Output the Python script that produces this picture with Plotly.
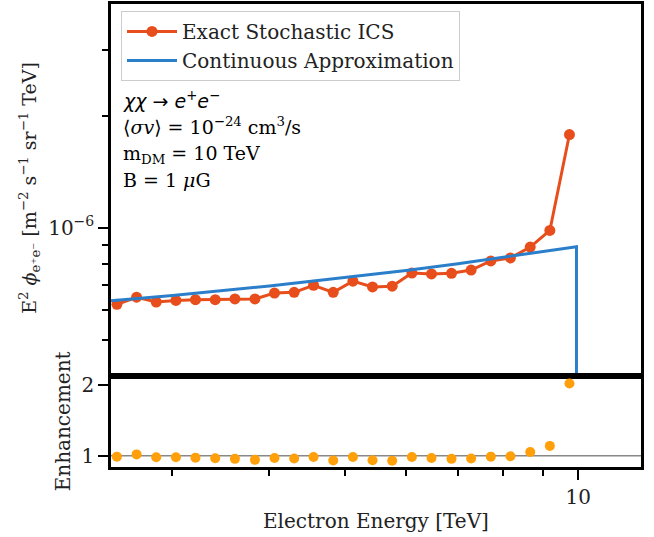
import plotly.graph_objects as go
from plotly.subplots import make_subplots

# ---- data ----
energy = [2.544, 2.697, 2.859, 3.031, 3.212, 3.406, 3.611, 3.832, 4.061, 4.305,
          4.560, 4.834, 5.125, 5.432, 5.759, 6.105, 6.471, 6.867, 7.279, 7.717,
          8.180, 8.674, 9.194, 9.745]
exact_flux = [6.22e-7, 6.50e-7, 6.31e-7, 6.37e-7, 6.40e-7, 6.40e-7, 6.43e-7, 6.43e-7,
              6.67e-7, 6.70e-7, 7.00e-7, 6.70e-7, 7.18e-7, 6.93e-7, 6.96e-7, 7.55e-7,
              7.51e-7, 7.54e-7, 7.69e-7, 8.14e-7, 8.29e-7, 8.87e-7, 9.83e-7, 1.781e-6]
enhancement = [0.986, 1.018, 0.977, 0.977, 0.972, 0.963, 0.955, 0.941, 0.968, 0.959,
               0.982, 0.931, 0.982, 0.935, 0.927, 0.982, 0.968, 0.955, 0.959, 0.986,
               0.991, 1.051, 1.138, 2.018]
cont_energy = [2.5, 3.0, 4.0, 5.0, 6.0, 7.0, 8.0, 9.0, 9.95, 9.95]
cont_flux = [6.36e-7, 6.57e-7, 6.97e-7, 7.33e-7, 7.67e-7, 8.00e-7, 8.32e-7, 8.61e-7,
             8.89e-7, 1e-10]

x_major = [10]
x_major_text = ["10"]
x_minor = [3, 4, 5, 6, 7, 8, 9]
y_major = [1e-6]
y_major_text = ["10<sup>−6</sup>"]
y_minor = [5e-7, 6e-7, 7e-7, 8e-7, 9e-7, 2e-6, 3e-6]
enh_ticks = [1, 2]

RED = "#e84e1b"
BLUE = "#2b7fca"
ORANGE = "#ffa00a"
FONT = "DejaVu Serif"
TXT = "#222222"

W, H = 654, 537
L, R, T, B = 111, 13, 1, 70
pw, ph = W - L - R, H - T - B

def px(xp):
    return (xp - L) / pw

def py(yp):
    return (H - B - yp) / ph

split = (H - B - 375) / ph

fig = make_subplots(rows=2, cols=1, shared_xaxes=True, vertical_spacing=0,
                    row_heights=[1 - split, split])

fig.add_trace(go.Scatter(x=energy, y=exact_flux, mode="lines+markers",
                         name="Exact Stochastic ICS",
                         line=dict(color=RED, width=3),
                         marker=dict(color=RED, size=11)), row=1, col=1)
fig.add_trace(go.Scatter(x=cont_energy, y=cont_flux, mode="lines",
                         name="Continuous Approximation",
                         line=dict(color=BLUE, width=3)), row=1, col=1)
fig.add_trace(go.Scatter(x=energy, y=enhancement, mode="markers",
                         showlegend=False,
                         marker=dict(color=ORANGE, size=10)), row=2, col=1)
fig.add_hline(y=1, line=dict(color="#888888", width=1.5), layer="below", row=2, col=1)

axis_common = dict(showline=True, linecolor="black", linewidth=2.5, mirror=True,
                   showgrid=False, zeroline=False, tickcolor="black", tickwidth=2,
                   tickfont=dict(family=FONT, size=20, color=TXT))

xrange = [0.3979, 1.081]
fig.update_xaxes(type="log", range=xrange, **axis_common)
fig.update_xaxes(row=1, col=1, ticks="", showticklabels=False)
fig.update_xaxes(row=2, col=1, ticks="outside", ticklen=10,
                 tickmode="array", tickvals=x_major, ticktext=x_major_text,
                 minor=dict(tickvals=x_minor, ticks="outside", ticklen=6,
                            tickwidth=1.5, tickcolor="black"))
fig.update_yaxes(row=1, col=1, type="log", range=[-6.398, -5.398],
                 ticks="outside", ticklen=10, tickmode="array",
                 tickvals=y_major, ticktext=y_major_text,
                 minor=dict(tickvals=y_minor, ticks="outside", ticklen=6,
                            tickwidth=1.5, tickcolor="black"),
                 **axis_common)
fig.update_yaxes(row=2, col=1, range=[0.84, 2.13], ticks="outside", ticklen=10,
                 tickmode="array", tickvals=enh_ticks, ticktext=["1", "2"],
                 **axis_common)

ann = []
ann.append(dict(x=px(30), y=py(186), xref="paper", yref="paper", showarrow=False,
                textangle=-90, xanchor="center", yanchor="middle",
                text="E<sup>2</sup> <i>ϕ</i><sub>e⁺e⁻</sub> [m<sup>−2</sup> s<sup>−1</sup> sr<sup>−1</sup> TeV]",
                font=dict(family=FONT, size=19, color=TXT)))
ann.append(dict(x=px(63), y=py(421), xref="paper", yref="paper", showarrow=False,
                textangle=-90, xanchor="center", yanchor="middle",
                text="Enhancement", font=dict(family=FONT, size=20, color=TXT)))
ann.append(dict(x=0.5, y=py(521), xref="paper", yref="paper", showarrow=False,
                xanchor="center", yanchor="middle",
                text="Electron Energy [TeV]", font=dict(family=FONT, size=20, color=TXT)))

lines = [
    ("<i>χχ</i> → <i>e</i><sup>+</sup><i>e</i><sup>−</sup>", 98, "DejaVu Sans"),
    ("⟨<i>σv</i>⟩ = 10<sup>−24</sup> cm<sup>3</sup>/s", 124, FONT),
    ("m<sub>DM</sub> = 10 TeV", 152, FONT),
    ("B = 1 <i>μ</i>G", 178, FONT),
]
for txt, yy, fam in lines:
    ann.append(dict(x=px(121), y=py(yy), xref="paper", yref="paper", showarrow=False,
                    xanchor="left", yanchor="middle", text=txt,
                    font=dict(family=fam, size=19, color="black")))

fig.update_layout(
    width=W, height=H,
    margin=dict(l=L, r=R, t=T, b=B),
    paper_bgcolor="white", plot_bgcolor="white",
    annotations=ann,
    legend=dict(x=px(121), y=py(8), xanchor="left", yanchor="top",
                bgcolor="rgba(255,255,255,0.9)", bordercolor="#cccccc", borderwidth=1,
                font=dict(family=FONT, size=20, color=TXT),
                itemwidth=50, tracegroupgap=2),
    showlegend=True,
)

fig.write_html("out.html")
